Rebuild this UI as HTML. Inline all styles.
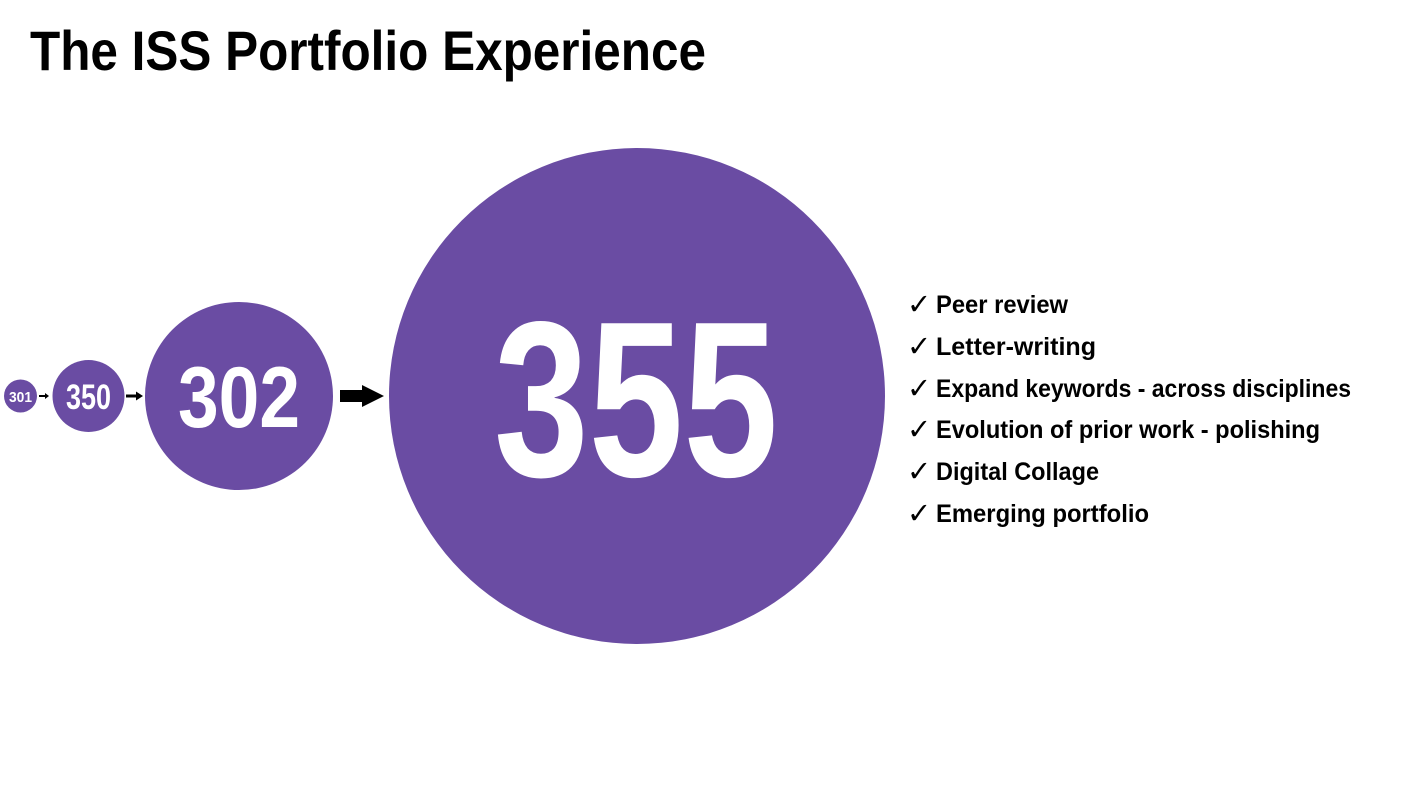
<!DOCTYPE html>
<html><head><meta charset="utf-8"><style>
html,body{margin:0;padding:0;background:#fff;width:1410px;height:793px;overflow:hidden}
svg{display:block}
text{font-family:"Liberation Sans Narrow","Liberation Sans",sans-serif;font-weight:bold}
</style></head><body>
<svg width="1410" height="793" viewBox="0 0 1410 793" xmlns="http://www.w3.org/2000/svg">
<text x="30" y="70" font-size="56" textLength="676" lengthAdjust="spacingAndGlyphs" fill="#000">The ISS Portfolio Experience</text>
<g fill="#6a4ca3">
<circle cx="20.5" cy="396" r="16.5"/>
<circle cx="88.5" cy="396" r="36"/>
<circle cx="239" cy="396" r="94"/>
<circle cx="637" cy="396" r="248"/>
</g>
<g fill="#000">
<polygon points="39,395 45,395 45,393 49,396 45,399 45,397 39,397"/>
<polygon points="126,394.5 136,394.5 136,391.5 143,396 136,400.5 136,397.5 126,397.5"/>
<polygon points="340,390 362,390 362,385 384,396 362,407 362,402 340,402"/>
</g>
<g fill="#fff" style="font-family:'Liberation Sans',sans-serif">
<text x="9" y="402" font-size="15" textLength="23" lengthAdjust="spacingAndGlyphs" style="font-family:'Liberation Sans',sans-serif">301</text>
<text x="66" y="409" font-size="35" textLength="45" lengthAdjust="spacingAndGlyphs" style="font-family:'Liberation Sans',sans-serif">350</text>
<text x="178" y="427" font-size="86" textLength="122" lengthAdjust="spacingAndGlyphs" style="font-family:'Liberation Sans',sans-serif">302</text>
<text x="494" y="476" font-size="222" textLength="284" lengthAdjust="spacingAndGlyphs" style="font-family:'Liberation Sans',sans-serif">355</text>
</g>
<g fill="#000" font-size="25">
<text x="907" y="314" font-size="29" font-family="DejaVu Sans" font-weight="normal" style="font-family:'DejaVu Sans',sans-serif;font-weight:normal">✓</text>
<text x="907" y="356" font-size="29" style="font-family:'DejaVu Sans',sans-serif;font-weight:normal">✓</text>
<text x="907" y="398" font-size="29" style="font-family:'DejaVu Sans',sans-serif;font-weight:normal">✓</text>
<text x="907" y="439" font-size="29" style="font-family:'DejaVu Sans',sans-serif;font-weight:normal">✓</text>
<text x="907" y="481" font-size="29" style="font-family:'DejaVu Sans',sans-serif;font-weight:normal">✓</text>
<text x="907" y="523" font-size="29" style="font-family:'DejaVu Sans',sans-serif;font-weight:normal">✓</text>
<text x="936" y="313" textLength="132" lengthAdjust="spacingAndGlyphs">Peer review</text>
<text x="936" y="355" textLength="160" lengthAdjust="spacingAndGlyphs">Letter-writing</text>
<text x="936" y="397" textLength="415" lengthAdjust="spacingAndGlyphs">Expand keywords - across disciplines</text>
<text x="936" y="438" textLength="384" lengthAdjust="spacingAndGlyphs">Evolution of prior work - polishing</text>
<text x="936" y="480" textLength="163" lengthAdjust="spacingAndGlyphs">Digital Collage</text>
<text x="936" y="522" textLength="213" lengthAdjust="spacingAndGlyphs">Emerging portfolio</text>
</g>
</svg>
</body></html>
